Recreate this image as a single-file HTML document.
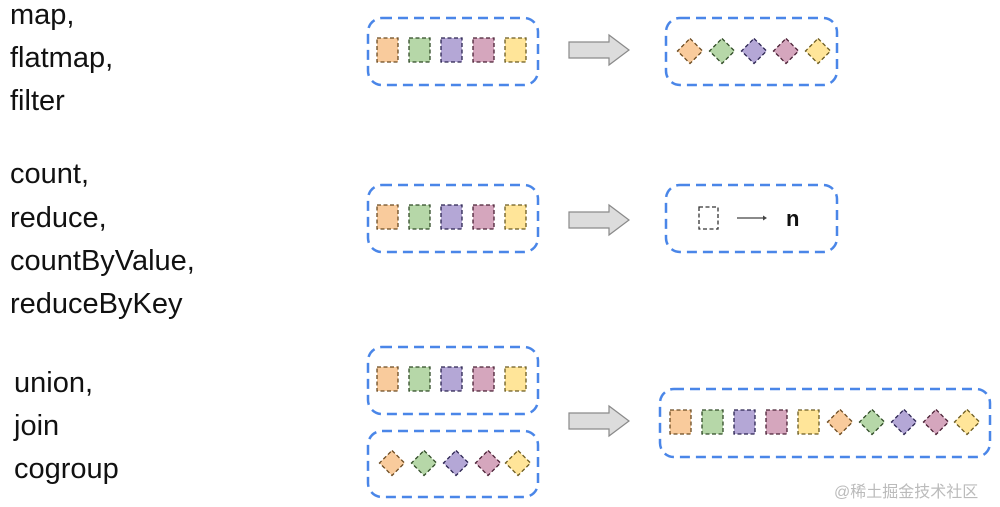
<!DOCTYPE html>
<html><head><meta charset="utf-8"><style>
html,body{margin:0;padding:0;background:#fff;width:1000px;height:507px;overflow:hidden}
svg text{font-family:"Liberation Sans",sans-serif;fill:#111}
</style></head><body>
<svg width="1000" height="507" viewBox="0 0 1000 507" xmlns="http://www.w3.org/2000/svg">
<g font-size="29">
<text x="10" y="24">map,</text>
<text x="10" y="67">flatmap,</text>
<text x="10" y="110">filter</text>
<text x="10" y="183">count,</text>
<text x="10" y="227">reduce,</text>
<text x="10" y="270">countByValue,</text>
<text x="10" y="313">reduceByKey</text>
<text x="14" y="392">union,</text>
<text x="14" y="435">join</text>
<text x="14" y="478">cogroup</text>
</g>
<g fill="none" stroke="#4a86e8" stroke-width="2.5" stroke-dasharray="10 6">
<rect x="368" y="18" width="170" height="67" rx="14"/>
<rect x="666" y="18" width="171" height="67" rx="14"/>
<rect x="368" y="185" width="170" height="67" rx="14"/>
<rect x="666" y="185" width="171" height="67" rx="14"/>
<rect x="368" y="347" width="170" height="67" rx="14"/>
<rect x="368" y="431" width="170" height="66" rx="14"/>
<rect x="660" y="389" width="330" height="68" rx="14"/>
</g>
<g stroke-width="1.3" stroke-dasharray="4 2.5">
<rect x="377" y="38" width="21" height="24" fill="#f9cb9c" stroke="#6b4a20"/>
<rect x="409" y="38" width="21" height="24" fill="#b6d7a8" stroke="#2f4a25"/>
<rect x="441" y="38" width="21" height="24" fill="#b4a7d6" stroke="#2a2350"/>
<rect x="473" y="38" width="21" height="24" fill="#d5a6bd" stroke="#4a2035"/>
<rect x="505" y="38" width="21" height="24" fill="#ffe599" stroke="#6a5a20"/>
<rect x="377" y="205" width="21" height="24" fill="#f9cb9c" stroke="#6b4a20"/>
<rect x="409" y="205" width="21" height="24" fill="#b6d7a8" stroke="#2f4a25"/>
<rect x="441" y="205" width="21" height="24" fill="#b4a7d6" stroke="#2a2350"/>
<rect x="473" y="205" width="21" height="24" fill="#d5a6bd" stroke="#4a2035"/>
<rect x="505" y="205" width="21" height="24" fill="#ffe599" stroke="#6a5a20"/>
<rect x="377" y="367" width="21" height="24" fill="#f9cb9c" stroke="#6b4a20"/>
<rect x="409" y="367" width="21" height="24" fill="#b6d7a8" stroke="#2f4a25"/>
<rect x="441" y="367" width="21" height="24" fill="#b4a7d6" stroke="#2a2350"/>
<rect x="473" y="367" width="21" height="24" fill="#d5a6bd" stroke="#4a2035"/>
<rect x="505" y="367" width="21" height="24" fill="#ffe599" stroke="#6a5a20"/>
<rect x="670" y="410" width="21" height="24" fill="#f9cb9c" stroke="#6b4a20"/>
<rect x="702" y="410" width="21" height="24" fill="#b6d7a8" stroke="#2f4a25"/>
<rect x="734" y="410" width="21" height="24" fill="#b4a7d6" stroke="#2a2350"/>
<rect x="766" y="410" width="21" height="24" fill="#d5a6bd" stroke="#4a2035"/>
<rect x="798" y="410" width="21" height="24" fill="#ffe599" stroke="#6a5a20"/>
</g>
<g stroke-width="1.3" stroke-dasharray="4 2.5">
<polygon points="690,38.5 702.5,51 690,63.5 677.5,51" fill="#f9cb9c" stroke="#6b4a20"/>
<polygon points="722,38.5 734.5,51 722,63.5 709.5,51" fill="#b6d7a8" stroke="#2f4a25"/>
<polygon points="754,38.5 766.5,51 754,63.5 741.5,51" fill="#b4a7d6" stroke="#2a2350"/>
<polygon points="786,38.5 798.5,51 786,63.5 773.5,51" fill="#d5a6bd" stroke="#4a2035"/>
<polygon points="818,38.5 830.5,51 818,63.5 805.5,51" fill="#ffe599" stroke="#6a5a20"/>
<polygon points="392,450.5 404.5,463 392,475.5 379.5,463" fill="#f9cb9c" stroke="#6b4a20"/>
<polygon points="424,450.5 436.5,463 424,475.5 411.5,463" fill="#b6d7a8" stroke="#2f4a25"/>
<polygon points="456,450.5 468.5,463 456,475.5 443.5,463" fill="#b4a7d6" stroke="#2a2350"/>
<polygon points="488,450.5 500.5,463 488,475.5 475.5,463" fill="#d5a6bd" stroke="#4a2035"/>
<polygon points="518,450.5 530.5,463 518,475.5 505.5,463" fill="#ffe599" stroke="#6a5a20"/>
<polygon points="840,409.5 852.5,422 840,434.5 827.5,422" fill="#f9cb9c" stroke="#6b4a20"/>
<polygon points="872,409.5 884.5,422 872,434.5 859.5,422" fill="#b6d7a8" stroke="#2f4a25"/>
<polygon points="904,409.5 916.5,422 904,434.5 891.5,422" fill="#b4a7d6" stroke="#2a2350"/>
<polygon points="936,409.5 948.5,422 936,434.5 923.5,422" fill="#d5a6bd" stroke="#4a2035"/>
<polygon points="967,409.5 979.5,422 967,434.5 954.5,422" fill="#ffe599" stroke="#6a5a20"/>
<rect x="699" y="207" width="19" height="22" fill="#fff" stroke="#333"/>
</g>
<line x1="737" y1="218" x2="763" y2="218" stroke="#444" stroke-width="1.3"/>
<polygon points="763,215.5 767,218 763,220.5" fill="#444"/>
<text x="786" y="226" font-size="22" font-weight="bold">n</text>
<g fill="#dcdcdc" stroke="#8a8a8a" stroke-width="1.2">
<polygon points="569,42 609,42 609,35 629,50 609,65 609,58 569,58"/>
<polygon points="569,212 609,212 609,205 629,220 609,235 609,228 569,228"/>
<polygon points="569,413 609,413 609,406 629,421 609,436 609,429 569,429"/>
</g>
<text x="834" y="497" font-size="16" style="fill:#bbb;font-family:'Liberation Sans','Noto Sans CJK SC',sans-serif">@稀土掘金技术社区</text>
</svg>
</body></html>
